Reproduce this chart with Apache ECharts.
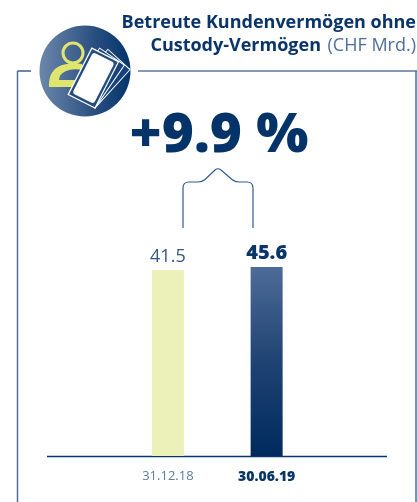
<!DOCTYPE HTML>
<html>
<head>
	<meta charset="utf-8">
	<title>Betreute Kundenvermögen</title>
	<style>
		body, html { margin: 0; padding: 0; background: #fff; width: 100%; height: 100%; overflow: hidden; }
		#main { width: 417px; height: 502px; }
	</style>
	<script src="https://cdn.jsdelivr.net/npm/echarts@6/dist/echarts.min.js"></script>
</head>
<body>
	<div id="main"></div>
	<script>
		var categories = ['31.12.18', '30.06.19'];
		var values = [41.5, 45.6];
		var valueLabels = ['41.5', '45.6'];
		var growthLabel = '+9.9 %';
		var titleBold = ['Betreute Kundenvermögen ohne', 'Custody-Vermögen'];
		var titleUnit = '(CHF Mrd.)';

		var navy = '#0a3569';
		var font = '"Open Sans", Lato, sans-serif';
		// the original's bars are nearly equal height, so the hidden axis starts far below zero
		var axisFloor = -213;

		echarts.graphic.registerShape('bracketShape', echarts.graphic.extendPath('M183 228 L183 188 Q183 182 189 182 L198 182 Q202 182 205 179.5 L215 170 Q218 167.5 221 170 L232 179.5 Q235 182 239 182 L247 182 Q253 182 253 188 L253 228', {}));
		echarts.graphic.registerShape('personShape', echarts.graphic.extendPath('M49 87 Q48 70 62 65 Q72 62 82 64 L84 70 Q72 68 66 71 Q59 74 59 80 L77 80 L72 87 Z', {}));

		var myChart = echarts.init(document.getElementById('main'), null, { renderer: 'canvas' });

		function line(x1, y1, x2, y2, color, w) {
			return { type: 'line', shape: { x1: x1, y1: y1, x2: x2, y2: y2 }, style: { stroke: color, lineWidth: w }, silent: true };
		}
		// one note of the fan, pivoting on its bottom corner
		function note(rot, fill, w) {
			return { type: 'rect', shape: { x: -30, y: -52, width: 30, height: 52 }, x: 95, y: 108, rotation: rot, style: { fill: fill, stroke: '#fff', lineWidth: w }, silent: true };
		}

		// bars have to grow from the axis floor, which type:'bar' won't do
		function renderBar(params, api) {
			var i = api.value(0);
			var top = api.coord([i, api.value(1)]);
			var bottom = api.coord([i, axisFloor]);
			var w = 32;
			var fill = i === 0 ? '#ebf1b8' : new echarts.graphic.LinearGradient(0, 0, 0, 1, [
				{ offset: 0, color: '#4d6b97' },
				{ offset: 0.5, color: '#1f4373' },
				{ offset: 1, color: '#002a5e' }
			]);
			return {
				type: 'group',
				children: [{
					type: 'rect',
					shape: { x: top[0] - w / 2, y: top[1], width: w, height: bottom[1] - top[1] },
					style: { fill: fill }
				}, {
					type: 'text',
					style: {
						x: top[0],
						y: top[1] - 4,
						text: valueLabels[i],
						textAlign: 'center',
						textVerticalAlign: 'bottom',
						fontFamily: font,
						fontSize: i === 0 ? 18 : 20,
						fontWeight: i === 0 ? 'normal' : 800,
						fill: i === 0 ? '#35577f' : navy
					}
				}]
			};
		}

		myChart.setOption({
			animation: false,
			backgroundColor: '#fff',
			grid: { left: 118.5, right: 101, top: 60, bottom: 46 },
			xAxis: {
				type: 'category',
				data: categories,
				axisLine: { show: false },
				axisTick: { show: false },
				axisLabel: {
					margin: 14,
					formatter: function (v, i) { return i === 1 ? '{b|' + v + '}' : '{n|' + v + '}'; },
					rich: {
						n: { color: '#5f7ea3', fontFamily: font, fontSize: 13 },
						b: { color: navy, fontFamily: font, fontSize: 14, fontWeight: 800 }
					}
				}
			},
			yAxis: { type: 'value', min: axisFloor, max: 329, show: false },
			series: [{
				type: 'custom',
				renderItem: renderBar,
				encode: { x: 0, y: 1 },
				data: values.map(function (v, i) { return [i, v]; })
			}],
			graphic: [
				// frame
				line(17.5, 71, 31, 71, navy, 1.2),
				line(17.5, 71, 17.5, 502, '#4d6f9b', 1.5),
				line(138, 71, 417, 71, navy, 1.2),
				line(416, 71, 416, 502, '#4d6f9b', 1.5),
				// baseline
				line(47, 456.5, 387, 456.5, navy, 1.3),
				// title
				{ type: 'text', style: { x: 416, y: 14, text: titleBold[0], textAlign: 'right', fontFamily: font, fontSize: 18, fontWeight: 'bold', fill: navy } },
				{ type: 'text', style: { x: 416, y: 37, text: titleUnit, textAlign: 'right', fontFamily: font, fontSize: 18, fill: '#4d6f9b' } },
				{ type: 'text', style: { x: 321, y: 37, text: titleBold[1], textAlign: 'right', fontFamily: font, fontSize: 18, fontWeight: 'bold', fill: navy } },
				// growth
				{ type: 'text', style: { x: 219, y: 109, text: growthLabel, textAlign: 'center', fontFamily: font, fontSize: 55, fontWeight: 800, fill: '#04336a' } },
				// bracket
				{ type: 'bracketShape', style: { stroke: '#2f5c8f', fill: null, lineWidth: 1.2 }, silent: true },
				// icon disc
				{
					type: 'circle',
					shape: { cx: 85, cy: 71, r: 45.5 },
					style: {
						fill: new echarts.graphic.LinearGradient(0, 0, 1, 0, [
							{ offset: 0, color: '#6c87ab' },
							{ offset: 0.6, color: '#2a4f80' },
							{ offset: 1, color: '#02346b' }
						])
					},
					silent: true
				},
				// person
				{ type: 'circle', shape: { cx: 73, cy: 53, r: 10 }, style: { fill: null, stroke: '#dfe56f', lineWidth: 3 }, silent: true },
				{ type: 'personShape', style: { fill: '#dfe56f' }, silent: true },
				// banknotes
				note(-0.74, '#17437a', 1),
				note(-0.6, '#17437a', 1),
				note(-0.47, '#254c7e', 1.3),
				{ type: 'rect', shape: { x: -27, y: -49, width: 24, height: 46, r: 3 }, x: 95, y: 108, rotation: -0.47, style: { fill: '#fff' }, silent: true }
			]
		});
	</script>
</body>
</html>
